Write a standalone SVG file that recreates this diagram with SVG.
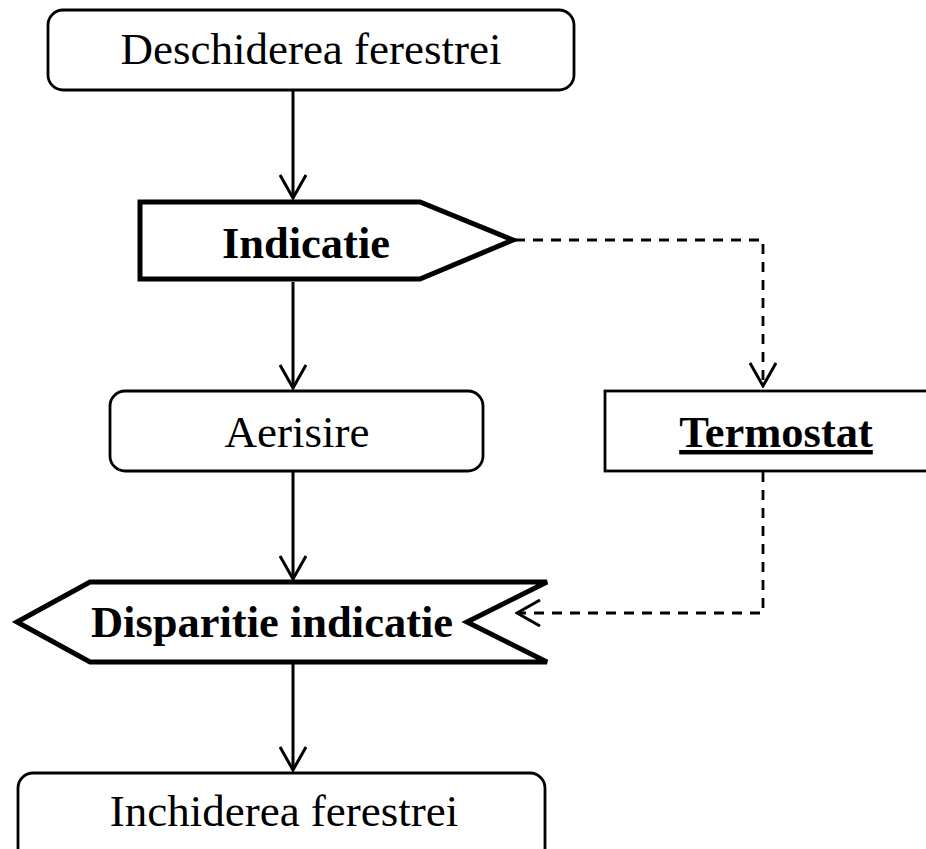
<svg xmlns="http://www.w3.org/2000/svg" width="926" height="849" viewBox="0 0 926 849">
  <style>
    .box { fill: #fff; stroke: #000; stroke-width: 2.8; }
    .thick { fill: #fff; stroke: #000; stroke-width: 5; stroke-linejoin: miter; }
    .lbl { font-family: "Liberation Serif", "Times New Roman", serif; font-size: 45px; fill: #000; text-anchor: middle; }
    .b { font-weight: bold; font-size: 44.5px; }
    .flow { fill: none; stroke: #000; stroke-width: 3; marker-end: url(#vee); }
    .dash { fill: none; stroke: #000; stroke-width: 2.8; stroke-dasharray: 10 8; marker-end: url(#vee); }
  </style>
  <defs>
    <marker id="vee" viewBox="0 0 26 28" refX="24" refY="14" markerWidth="26" markerHeight="28" markerUnits="userSpaceOnUse" orient="auto">
      <path d="M1,1 L24,14 L1,27" fill="none" stroke="#000" stroke-width="3" stroke-dasharray="none"/>
    </marker>
  </defs>

  <rect width="926" height="849" fill="#fff"/>

  <g id="connectors">
    <path class="flow" d="M293,90 V198"/>
    <path class="flow" d="M293,282 V388"/>
    <path class="flow" d="M293,472 V579"/>
    <path class="flow" d="M293,664 V770"/>
    <path class="dash" d="M515,240 H763 V386"/>
    <path class="dash" d="M763,472 V613 H517"/>
  </g>

  <g id="deschiderea">
    <rect class="box" x="48" y="10" width="526" height="80" rx="15"/>
    <text class="lbl" x="311" y="64">Deschiderea ferestrei</text>
  </g>

  <g id="indicatie">
    <path class="thick" d="M140,202 H420 L513,240 L420,279 H140 Z"/>
    <text class="lbl b" x="306" y="258">Indicatie</text>
  </g>

  <g id="aerisire">
    <rect class="box" x="110" y="391" width="373" height="80" rx="15"/>
    <text class="lbl" x="297" y="447">Aerisire</text>
  </g>

  <g id="termostat">
    <rect class="box" x="605" y="391" width="330" height="80" stroke-width="2.2"/>
    <text class="lbl b" x="776" y="447" text-decoration="underline">Termostat</text>
  </g>

  <g id="disparitie">
    <path class="thick" d="M17,622 L90,582 H547 L467,622 L547,662 H90 Z"/>
    <text class="lbl b" x="272" y="637">Disparitie indicatie</text>
  </g>

  <g id="inchiderea">
    <rect class="box" x="18" y="773" width="527" height="90" rx="15"/>
    <text class="lbl" x="284" y="826">Inchiderea ferestrei</text>
  </g>
</svg>
